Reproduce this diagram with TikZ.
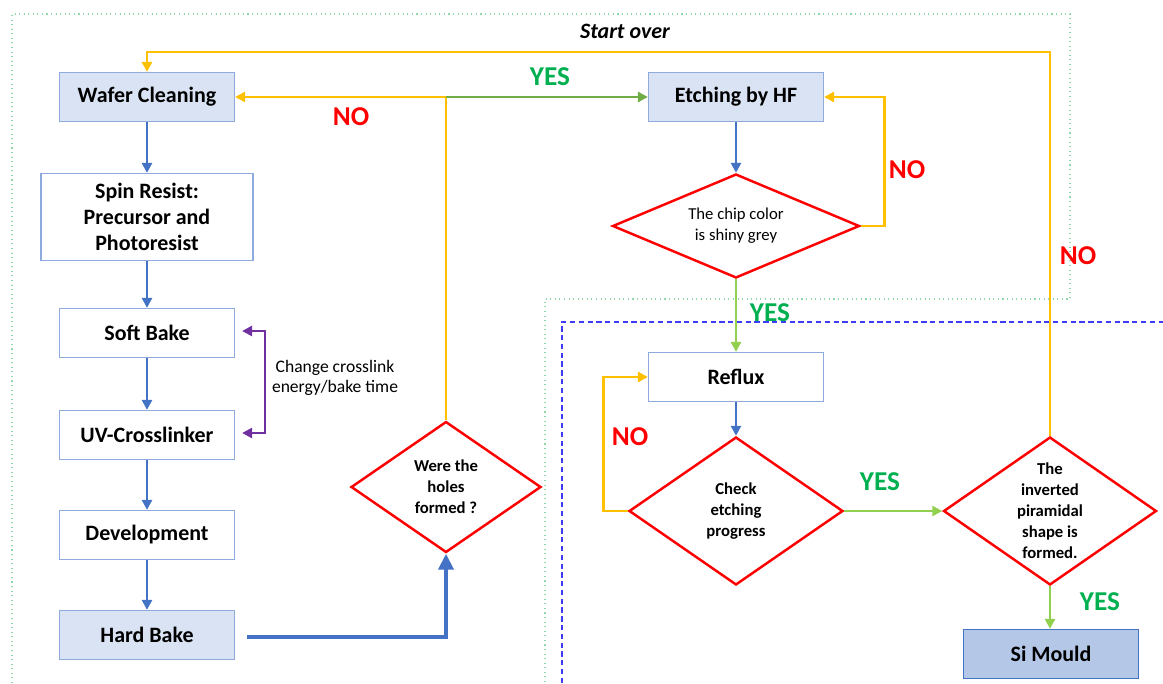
\documentclass[tikz,border=0pt]{standalone}
\usepackage{fontspec}
\setmainfont{Carlito}
\usetikzlibrary{
  arrows.meta,
  calc,
  shapes.geometric
}
\definecolor{boxBlue}{HTML}{8FAADC}
\definecolor{fillBlue}{HTML}{DAE3F3}
\definecolor{mouldBlue}{HTML}{B4C7E7}
\definecolor{flowBlue}{HTML}{4472C4}
\definecolor{loopYellow}{HTML}{FFC000}
\definecolor{yesGreen}{HTML}{00B050}
\definecolor{passGreen}{HTML}{92D050}
\definecolor{goGreen}{HTML}{70AD47}
\definecolor{noRed}{HTML}{FF0000}
\definecolor{tunePurple}{HTML}{7030A0}
\definecolor{zoneGreen}{HTML}{8ED9A8}
\definecolor{zoneBlue}{HTML}{3D3DF5}
\tikzset{
  stepbox/.style = {rectangle, draw=boxBlue, line width=0.7pt,
                    minimum width=3.5cm, minimum height=0.98cm,
                    align=center, font=\fontsize{12.5}{15}\selectfont\bfseries},
  keybox/.style  = {stepbox, fill=fillBlue},
  mould/.style   = {stepbox, fill=mouldBlue, draw=flowBlue},
  query/.style   = {diamond, draw=noRed, line width=1.4pt, fill=white,
                    inner sep=-0.4cm, align=center,
                    font=\fontsize{9.5}{12}\selectfont\bfseries},
  flow/.style    = {-{Triangle[length=2mm, width=2mm]}, line width=1.5pt, draw=flowBlue},
  bigFlow/.style = {-{Triangle[length=3.2mm, width=3mm]}, line width=2.6pt, draw=flowBlue},
  back/.style    = {-{Triangle[length=2mm, width=2mm]}, line width=1.6pt, draw=loopYellow},
  pass/.style    = {-{Triangle[length=2mm, width=2mm]}, line width=1.6pt, draw=passGreen},
  go/.style      = {-{Triangle[length=2mm, width=2mm]}, line width=1.6pt, draw=goGreen},
  tune/.style    = {{Triangle[length=2mm, width=2mm]}-{Triangle[length=2mm, width=2mm]},
                    line width=1.4pt, draw=tunePurple},
  yes/.style     = {font=\fontsize{15.5}{18}\selectfont\bfseries, text=yesGreen},
  no/.style      = {font=\fontsize{15.5}{18}\selectfont\bfseries, text=noRed},
  zone/.style    = {draw=zoneGreen, dotted, line width=0.6pt},
  refluxZone/.style = {draw=zoneBlue, dash pattern=on 3pt off 2pt, line width=0.8pt}
}
\begin{document}
\begin{tikzpicture}[x=0.02cm, y=-0.02cm]
\useasboundingbox (0,0) rectangle (1163,683);

% zones
\draw[zone] (12,683) -- (12,14) -- (1070,14) -- (1070,299) -- (545,299) -- (545,683);
\draw[refluxZone] (562,683) -- (562,322) -- (1163,322);
\node[font=\fontsize{12.5}{15}\selectfont\bfseries\itshape] (restart) at (625,31) {Start over};

% lithography column
\node[keybox] (wafer) at (147,97) {Wafer Cleaning};
\node[stepbox, minimum width=4.24cm, minimum height=1.74cm] (spin) at (147,217)
  {Spin Resist:\\Precursor and\\Photoresist};
\node[stepbox] (soft) at (147,333) {Soft Bake};
\node[stepbox] (uv) at (147,435) {UV-Crosslinker};
\node[stepbox] (dev) at (147,535) {Development};
\node[keybox] (hard) at (147,635) {Hard Bake};
\node[query, minimum width=3.8cm, minimum height=2.62cm] (holes) at (446,487)
  {Were the\\holes\\formed ?};

\draw[flow] (wafer) -- (spin);
\draw[flow] (spin) -- (soft);
\draw[flow] (soft) -- (uv);
\draw[flow] (uv) -- (dev);
\draw[flow] (dev) -- (hard);
\draw[bigFlow] ($(hard.east)+(12,2)$) -| (holes.south);

\draw[tune] ($(soft.east)+(7,-2)$) -- ++(23,0) |- ($(uv.east)+(7,-2)$);
\node[font=\fontsize{10}{11.5}\selectfont, align=center] (tuneNote) at (335,378)
  {Change crosslink\\energy/bake time};

% etching branch
\node[keybox] (etch) at (736,97) {Etching by HF};
\node[query, minimum width=4.94cm, minimum height=2.08cm,
      font=\fontsize{9.5}{12}\selectfont] (chip) at (736,226)
  {The chip color\\is shiny grey};
\node[stepbox] (reflux) at (736,377) {Reflux};
\node[query, minimum width=4.28cm, minimum height=2.96cm] (check) at (736,511)
  {Check\\etching\\progress};
\node[query, minimum width=4.26cm, minimum height=2.96cm] (pyr) at (1050,511)
  {The\\inverted\\piramidal\\shape is\\formed.};
\node[mould] (si) at (1051,654) {Si Mould};

\coordinate (split) at (holes.north |- wafer.east);
\coordinate (loopTop) at (0,52);
\draw[back] (holes.north) -- (split) -- (wafer.east);
\draw[go] (split) -- (etch.west);
\draw[flow] (etch) -- (chip);
\draw[back] (chip.east) -- ++(24,0) |- (etch.east);
\draw[pass] (chip.south) -- (reflux.north);
\draw[flow] (reflux) -- (check);
\draw[back] (check.west) -- ++(-24,0) |- (reflux.west);
\draw[pass] (check.east) -- (pyr.west);
\draw[pass] (pyr.south) -- (pyr.south |- si.north);
\draw[back] (pyr.north) -- (pyr.north |- loopTop) -| (wafer.north);

% answers
\node[no] (noWafer) at (351,117) {NO};
\node[yes] (yesEtch) at (550,77) {YES};
\node[no] (noChip) at (907,170) {NO};
\node[yes] (yesChip) at (770,313) {YES};
\node[no] (noPyr) at (1078,256) {NO};
\node[no] (noCheck) at (630,437) {NO};
\node[yes] (yesCheck) at (880,482) {YES};
\node[yes] (yesPyr) at (1100,602) {YES};
\end{tikzpicture}
\end{document}
